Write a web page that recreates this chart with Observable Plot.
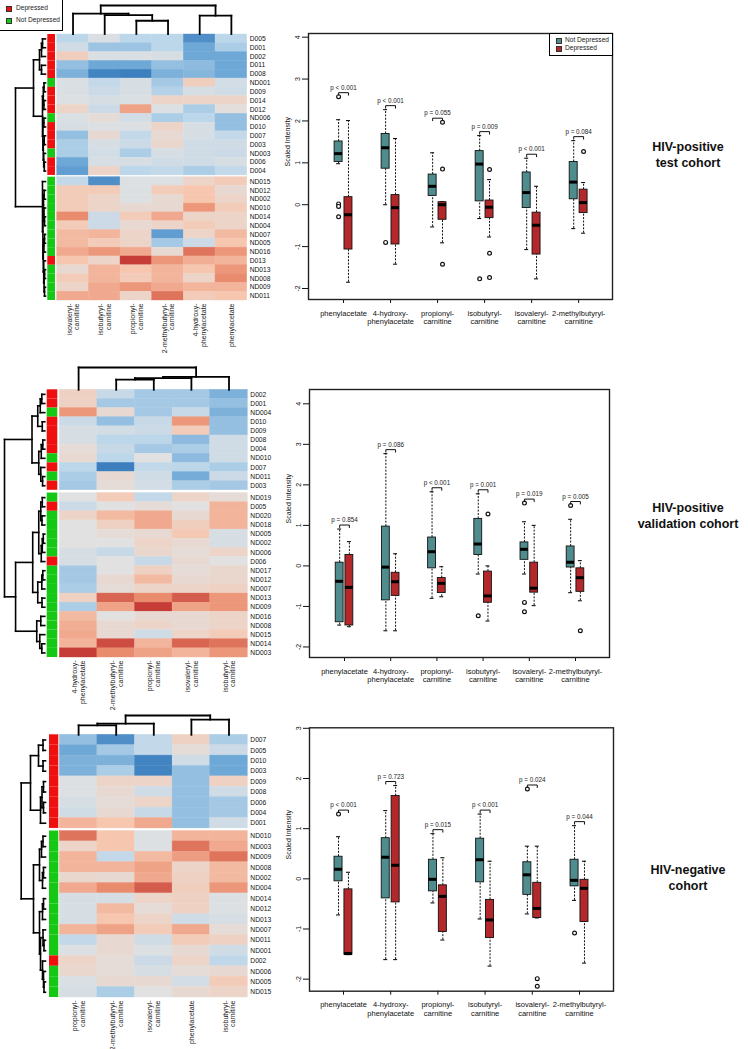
<!DOCTYPE html>
<html><head><meta charset="utf-8">
<script src="https://cdn.jsdelivr.net/npm/d3@7"></script>
<script src="https://cdn.jsdelivr.net/npm/@observablehq/plot@0.6"></script>
<style>
body{margin:0;background:#fff;}
#fig{position:relative;width:748px;height:1049px;overflow:hidden;background:#fff;font-family:"Liberation Sans",Arial,Helvetica,sans-serif;}
#fig svg{position:absolute;left:0;top:0;}
.title{position:absolute;font-weight:bold;font-size:12.5px;text-align:center;line-height:16px;width:140px;color:#111;}
.lg{position:absolute;border:1px solid #000;background:#fff;font-size:6.6px;color:#222;}
.lg div{position:absolute;white-space:nowrap;line-height:8px;}
.sw{position:absolute;width:4px;height:4px;border:0.5px solid #333;}
</style></head><body><div id="fig"></div>
<script>
// ---------------- DATA ----------------
const groupNames = ["Depressed", "Not Depressed"];
const groupColors = ["#f00f0f", "#14c814"];
const boxGroups = ["Not Depressed", "Depressed"];
const boxColors = ["#4e8c8e", "#b3282b"];

// HIV-positive test cohort heatmap
const testColumns = ["isovaleryl-\ncarnitine", "isobutyryl-\ncarnitine", "propionyl-\ncarnitine", "2-methylbutyryl-\ncarnitine", "4-hydroxy-\nphenylacetate", "phenylacetate"];
const testRows = ["D005","D001","D002","D011","D008","ND001","D009","D014","D012","ND006","D010","D007","D003","ND003","D006","D004","ND015","ND012","ND002","ND010","ND014","ND004","ND007","ND005","ND016","D013","ND013","ND008","ND009","ND011"];
const testSplit = 16;
const testValues = [
  [-1.0,-0.2,-1.0,-1.0,-2.5,-1.0],
  [-0.5,-1.4,-1.4,-1.0,-2.0,-1.2],
  [0.7,-0.2,-0.2,-0.3,-2.0,-2.0],
  [-1.5,-2.0,-2.0,-1.5,-1.6,-2.0],
  [-1.8,-2.7,-2.8,-1.8,-1.7,-2.0],
  [-0.2,-0.8,-0.3,-1.3,0.7,-0.4],
  [-0.2,-0.6,-0.3,-1.1,-0.3,-0.5],
  [-0.1,-0.3,-0.2,0.5,0.5,0.5],
  [0.5,-0.6,1.6,-0.1,-1.2,0.1],
  [-0.2,0.2,-0.4,-1.2,-1.0,-1.5],
  [-0.3,-0.1,-0.1,0.5,-0.3,-1.5],
  [-1.5,0.3,-0.8,0.3,-0.3,-0.8],
  [-1.2,-0.3,-0.6,0.4,-0.5,-0.5],
  [-1.2,-0.4,-1.2,-0.3,-0.5,-0.6],
  [-2.0,-0.3,-0.3,-0.5,-0.5,-0.3],
  [-2.2,0.5,-1.0,-0.8,-1.2,-0.8],
  [-0.8,-2.5,-0.1,-0.1,0.5,0.8],
  [0.8,0.8,-0.1,0.8,1.0,0.3],
  [0.8,0.5,-0.1,0.3,1.0,0.5],
  [0.8,0.5,0.3,0.3,1.8,0.8],
  [2.0,-0.6,0.8,1.5,0.5,0.5],
  [0.8,-0.6,0.3,0.5,0.8,0.5],
  [1.2,1.3,0.5,-2.2,0.5,1.2],
  [1.2,0.8,0.5,-1.3,-0.6,1.0],
  [1.5,1.8,1.5,0.3,2.3,1.8],
  [1.0,0.5,3.2,1.8,1.4,1.3],
  [0.3,1.3,1.0,1.3,1.0,1.8],
  [0.8,1.3,0.8,1.3,0.5,2.0],
  [0.5,1.5,1.8,1.5,1.3,1.3],
  [1.5,1.5,0.5,2.3,0.8,1.0]
];
// dendrograms: [height, left, right]
const testRowTree = [30,
  [12,
    [6, [4, [3, "D005", "D001"], "D002"], [4, "D011", "D008"]],
    [3, [2.2, [1.5, "ND001", "D009"], [1.6, "D014", "D012"]],
        [2.6, [1.6, "ND006", "D010"], [2.2, [1.3, "D007", "D003"], [1.8, "ND003", [1.2, "D006", "D004"]]]]]],
  [3, "ND015", [2.6, [2, [1.4, "ND012", "ND002"], [1.6, "ND010", [1, "ND014", "ND004"]]],
                     [2.2, [1.6, [1, "ND007", "ND005"], "ND016"], [1.8, "D013", [1.4, [0.9, "ND013", "ND008"], [1, "ND009", "ND011"]]]]]]
];
const testColTree = [28, [20, 0, [18.5, 1, [13, 2, 3]]], [18, 4, 5]];

// HIV-positive validation cohort heatmap
const valColumns = ["4-hydroxy-\nphenylacetate", "2-methylbutyryl-\ncarnitine", "propionyl-\ncarnitine", "isovaleryl-\ncarnitine", "isobutyryl-\ncarnitine"];
const valRows = ["D002","D001","ND004","D010","D009","D008","D004","ND010","D007","ND011","D003","ND019","D005","ND020","ND018","ND005","ND002","ND006","D006","ND017","ND012","ND007","ND013","ND009","ND016","ND008","ND015","ND014","ND003"];
const valSplit = 11;
const valValues = [
  [0.6,-0.7,-1.3,-1.3,-1.8],
  [0.6,-1.3,-1.3,-1.3,-1.5],
  [1.8,0.3,-1.3,-0.7,-1.8],
  [-0.6,-1.5,-0.7,1.8,-1.5],
  [-0.3,-0.4,-0.6,0.8,-1.5],
  [-0.3,-1.0,-1.0,-1.6,-0.5],
  [0.2,-0.7,-1.3,-1.2,-0.5],
  [0.3,-1.0,0.0,-1.6,-0.5],
  [-1.0,-2.8,-0.8,-1.0,-1.2],
  [-1.2,0.3,-0.5,-1.9,-0.6],
  [-1.3,0.2,-0.4,-1.2,-1.3],
  [0.0,0.8,-0.8,0.5,0.2],
  [-0.6,0.0,0.2,0.0,1.3],
  [0.5,1.2,1.5,0.3,1.3],
  [0.0,0.6,1.5,0.7,1.3],
  [0.0,0.2,0.3,0.9,-0.3],
  [0.0,0.0,0.5,0.3,-0.3],
  [-0.3,-0.7,0.4,0.2,0.5],
  [-0.3,0.0,-0.7,0.3,0.0],
  [-1.3,0.0,0.6,0.2,0.4],
  [-1.3,0.3,1.2,0.3,0.4],
  [-1.2,0.2,0.5,0.5,0.6],
  [0.6,2.5,2.0,2.6,1.8],
  [-1.2,1.6,3.3,1.6,1.8],
  [1.2,0.0,0.3,0.3,0.5],
  [1.4,0.3,0.5,0.3,0.5],
  [1.5,0.3,-0.5,0.5,0.8],
  [1.3,2.8,1.3,2.5,2.3],
  [3.0,2.0,1.6,1.3,1.8]
];
const valRowTree = [40,
  [12.7,
    [7, [4.5, [3, "D002", "D001"], "ND004"], [2.5, "D010", "D009"]],
    [6, [3.5, [2, "D008", "D004"], "ND010"], [4, "D007", [2.2, "ND011", "D003"]]]],
  [29,
    [12,
      [6, [4, [2.5, "ND019", "D005"], [2.8, "ND020", "ND018"]], [3.5, [2.5, [1.5, "ND005", "ND002"], "ND006"], "D006"]],
      [7, [3, [2, "ND017", "ND012"], "ND007"], [2.8, "ND013", "ND009"]]],
    [8, [4, "ND016", "ND008"], [5, "ND015", [3, "ND014", "ND003"]]]]
];
const valColTree = [22, 0, [12.7, [11.5, [10, 1, 2], 3], 4]];

// HIV-negative cohort heatmap
const negColumns = ["propionyl-\ncarnitine", "2-methylbutyryl-\ncarnitine", "isovaleryl-\ncarnitine", "phenylacetate", "isobutyryl-\ncarnitine"];
const negRows = ["D007","D005","D010","D003","D009","D008","D006","D004","D001","ND010","ND003","ND009","ND008","ND002","ND004","ND014","ND012","ND013","ND007","ND011","ND001","D002","ND006","ND005","ND015"];
const negSplit = 9;
const negValues = [
  [-1.5,-2.5,-0.8,0.6,-1.2],
  [-2.0,-1.3,-0.8,0.2,-0.6],
  [-1.8,-1.8,-2.7,-0.5,-2.0],
  [-1.8,-1.2,-2.7,-1.5,-2.0],
  [-0.1,0.5,0.5,-1.5,0.6],
  [-0.1,0.3,-0.5,-1.5,-0.5],
  [-0.3,0.2,0.5,-1.5,-1.3],
  [-0.5,0.3,-0.7,-1.5,-1.3],
  [1.3,1.0,1.5,-1.5,-0.5],
  [2.3,1.0,-0.1,1.3,1.3],
  [0.5,1.0,-0.1,2.3,1.5],
  [1.3,-0.8,1.2,1.7,2.3],
  [1.3,1.3,1.6,0.5,1.2],
  [0.4,0.3,1.5,0.6,1.2],
  [1.5,2.0,2.6,0.7,1.8],
  [-0.3,-0.3,0.5,0.6,-0.1],
  [-0.3,1.2,0.2,0.6,-0.1],
  [-0.3,1.0,0.5,-0.5,-0.3],
  [1.3,1.6,0.8,1.5,0.2],
  [-0.8,0.3,-0.5,0.8,0.6],
  [-0.1,0.3,-0.1,0.3,-0.5],
  [0.5,0.2,-0.6,0.5,-0.9],
  [0.4,0.2,-0.3,0.2,0.3],
  [-0.2,0.3,0.3,-0.4,0.8],
  [-0.3,-1.2,0.0,0.3,0.5]
];
const negRowTree = [24.3,
  [15,
    [7, [2.5, "D007", "D005"], [2.5, "D010", "D003"]],
    [5, [3.5, [2, "D009", "D008"], [2, "D006", "D004"]], "D001"]],
  [12,
    [6, [4, [2.5, "ND010", "ND003"], "ND009"], [3, [2, "ND008", "ND002"], "ND004"]],
    [6, [3, [2, "ND014", "ND012"], "ND013"],
        [5, [2.5, "ND007", [1.5, "ND011", "ND001"]], [3, "D002", [2, "ND006", [1.5, "ND005", "ND015"]]]]]]
];
const negColTree = [19, [11, [9.3, 0, 1], 2], [15, 3, 4]];

// Boxplots: [lower whisker, Q1, median, Q3, upper whisker]
const boxMetabolites = ["phenylacetate", "4-hydroxy-\nphenylacetate", "propionyl-\ncarnitine", "isobutyryl-\ncarnitine", "isovaleryl-\ncarnitine", "2-methylbutyryl-\ncarnitine"];
const testND = [[0.98,1.02,1.22,1.51,2.03],[0.00,0.86,1.36,1.69,2.27],[-0.53,0.21,0.44,0.72,1.24],[-0.33,0.08,0.97,1.28,1.65],[-1.07,-0.08,0.29,0.77,1.11],[-0.57,0.13,0.54,1.02,1.53]];
const testD  = [[-1.85,-1.07,-0.24,0.18,2.01],[-1.42,-0.95,-0.07,0.23,1.58],[-0.91,-0.36,0.00,0.06,0.07],[-0.77,-0.32,-0.06,0.10,0.60],[-1.77,-1.19,-0.49,-0.19,0.44],[-0.68,-0.20,0.05,0.36,0.53]];
const testOutND = [[2.58,0.02,-0.04,-0.29],[-0.90],[],[-1.77],[],[]];
const testOutD  = [[],[],[1.97,0.85,-1.42],[0.84,-1.16,-1.74],[],[1.27]];
const testP = ["p < 0.001","p < 0.001","p = 0.055","p = 0.009","p < 0.001","p = 0.084"];

const valND = [[-1.46,-1.39,-0.38,0.08,0.91],[-1.60,-0.85,-0.03,0.97,2.77],[-0.80,-0.06,0.35,0.70,1.83],[-0.20,0.27,0.54,1.16,1.78],[-0.20,0.15,0.41,0.58,1.09],[-0.66,-0.04,0.09,0.48,1.15]];
const valD  = [[-1.50,-1.47,-0.53,0.27,0.60],[-1.60,-0.74,-0.39,-0.17,0.30],[-0.76,-0.67,-0.43,-0.30,-0.02],[-1.36,-0.91,-0.74,-0.14,0.00],[-0.98,-0.66,-0.55,0.08,1.00],[-0.86,-0.64,-0.29,-0.06,0.13]];
const valOutND = [[],[],[],[-1.23],[1.55,-0.90,-1.13],[1.49]];
const valOutD  = [[],[],[],[1.28],[],[-1.60]];
const valP = ["p = 0.854","p = 0.086","p < 0.001","p = 0.001","p = 0.019","p = 0.005"];

const negND = [[-0.72,-0.05,0.19,0.44,0.84],[-1.61,-0.39,0.43,0.81,1.36],[-0.48,-0.25,-0.01,0.38,0.90],[-0.80,-0.07,0.38,0.80,1.29],[-0.70,-0.32,0.08,0.33,0.65],[-0.43,-0.15,-0.03,0.38,1.06]];
const negD  = [[-1.51,-1.51,-1.49,-0.21,0.13],[-1.61,-0.47,0.27,1.65,1.86],[-1.22,-1.06,-0.35,-0.13,0.42],[-1.74,-1.18,-0.82,-0.42,0.35],[-0.78,-0.78,-0.59,-0.08,0.65],[-1.68,-0.86,-0.19,-0.02,0.35]];
const negOutND = [[1.29],[],[],[],[1.79],[-1.08]];
const negOutD  = [[],[],[],[],[-1.99,-2.14],[]];
const negP = ["p < 0.001","p = 0.723","p = 0.015","p < 0.001","p = 0.024","p = 0.044"];

const yLabel = "Scaled Intensity";

// ---------------- DRAWING ----------------
const FONT = '"Liberation Sans", Arial, Helvetica, sans-serif';
const fig = document.getElementById("fig");
const W = 748, H = 1049;
const baseStyle = {background: "transparent", fontFamily: FONT, fontSize: "7px", overflow: "visible", color: "#111"};
function add(svg) { fig.appendChild(svg); }
const heatColor = {type: "linear", domain: [-3, -2, -1, 0, 1, 2, 3], range: ["#2f73b8", "#6ea8d6", "#bcd6ea", "#e1e1e1", "#f6c6af", "#e98b6d", "#c63d37"], clamp: true};

function dendroSegs(tree, leafPos) {
  const segs = [];
  (function walk(node) {
    if (!Array.isArray(node)) return {p: leafPos(node), h: 0};
    const [h, a, b] = node;
    const A = walk(a), B = walk(b);
    segs.push({p1: A.p, p2: B.p, h1: h, h2: h});
    segs.push({p1: A.p, p2: A.p, h1: A.h, h2: h});
    segs.push({p1: B.p, p2: B.p, h1: B.h, h2: h});
    return {p: (A.p + B.p) / 2, h};
  })(tree);
  return segs;
}

function heatmap(rows, cols, values, split, rowTree, colTree, L) {
  const pos = rows.map((r, i) => i + (i >= split ? L.gap : 0));
  const N = rows.length + L.gap;
  const cells = [];
  rows.forEach((r, i) => cols.forEach((c, j) => cells.push({r, j, p: pos[i], v: values[i][j]})));
  const yS = {domain: [0, N], range: [L.y0, L.y1], axis: null};
  const xS = {domain: [0, cols.length], range: [L.x0, L.x1], axis: null};
  add(Plot.plot({width: W, height: H, margin: 0, style: baseStyle, x: xS, y: yS, color: heatColor,
    marks: [
      Plot.rect(cells, {x1: "j", x2: d => d.j + 1, y1: "p", y2: d => d.p + 1, fill: "v", stroke: "v", strokeWidth: 0.4}),
      Plot.text(rows, {x: () => cols.length, y: (d, i) => pos[i] + 0.5, text: d => d, textAnchor: "start", dx: 2.5, fontSize: 6.7, fill: "#111"}),
      Plot.text(cols, {x: (d, j) => j + 0.5, y: () => N, text: d => d, rotate: -90, textAnchor: "end", dy: 3, fontSize: 7, lineHeight: 1.1, fill: "#222"})
    ]}));
  // annotation sidebar
  add(Plot.plot({width: W, height: H, margin: 0, style: baseStyle,
    x: {domain: [0, 1], range: [L.sx0, L.sx1], axis: null}, y: yS,
    color: {domain: groupNames, range: groupColors},
    marks: [Plot.rect(rows, {x1: () => 0, x2: () => 1, y1: (d, i) => pos[i], y2: (d, i) => pos[i] + 1,
      fill: d => d.startsWith("ND") ? "Not Depressed" : "Depressed"})]}));
  // row dendrogram
  const rsegs = dendroSegs(rowTree, name => pos[rows.indexOf(name)] + 0.5);
  add(Plot.plot({width: W, height: H, margin: 0, style: baseStyle,
    x: {domain: [0, rowTree[0]], range: [L.leafX, L.rootX], axis: null}, y: yS,
    marks: [Plot.link(rsegs, {x1: "h1", x2: "h2", y1: "p1", y2: "p2", stroke: "#000", strokeWidth: 1.6, strokeLinecap: "square"})]}));
  // column dendrogram
  const csegs = dendroSegs(colTree, j => j + 0.5);
  add(Plot.plot({width: W, height: H, margin: 0, style: baseStyle, x: xS,
    y: {domain: [0, colTree[0]], range: [L.cLeafY, L.cRootY], axis: null},
    marks: [Plot.link(csegs, {x1: "p1", x2: "p2", y1: "h1", y2: "h2", stroke: "#000", strokeWidth: 1.8, strokeLinecap: "square"})]}));
}

function boxplot(nd, dd, outND, outD, pv, F) {
  const off = {"Not Depressed": -0.105, "Depressed": 0.105};
  const hw = 0.085;
  const stats = [], outs = [], pdata = [], brackets = [];
  const k = (F.yDomain[1] - F.yDomain[0]) / (F.y1 - F.y0); // data units per px
  boxMetabolites.forEach((m, i) => {
    [[nd, outND, "Not Depressed"], [dd, outD, "Depressed"]].forEach(([S, O, s]) => {
      const [lo, q1, med, q3, hi] = S[i];
      stats.push({i: i + 1, s, lo, q1, med, q3, hi});
      O[i].forEach(v => outs.push({i: i + 1, s, v}));
    });
    const top = Math.max(nd[i][4], dd[i][4], ...outND[i], ...outD[i]);
    pdata.push({i: i + 1, top, p: pv[i], label: m});
    const a = i + 1 + off["Not Depressed"], b = i + 1 + off["Depressed"];
    [[a, top + 1.5 * k], [a, top + 4 * k], [b, top + 4 * k], [b, top + 1.5 * k]].forEach(([x, y]) => brackets.push({g: i, x, y}));
  });
  const xc = d => d.i + off[d.s];
  const yTicks = d3.range(Math.ceil(F.yDomain[0]), Math.floor(F.yDomain[1]) + 1);
  add(Plot.plot({width: W, height: H, marginLeft: F.x0, marginRight: W - F.x1, marginTop: F.y0, marginBottom: H - F.y1,
    style: baseStyle,
    x: {domain: F.xDomain, ticks: [1, 2, 3, 4, 5, 6], tickFormat: () => "", tickSize: 4, label: null},
    y: {domain: F.yDomain, ticks: yTicks, tickFormat: d => String(d), tickRotate: -90, tickSize: 6, tickPadding: 3, label: null},
    color: {domain: boxGroups, range: boxColors},
    marks: [
      Plot.ruleX(stats, {x: xc, y1: "q3", y2: "hi", strokeDasharray: "2,1.4", strokeWidth: 1, stroke: "#111"}),
      Plot.ruleX(stats, {x: xc, y1: "lo", y2: "q1", strokeDasharray: "2,1.4", strokeWidth: 1, stroke: "#111"}),
      Plot.ruleY(stats, {y: "hi", x1: d => xc(d) - hw * 0.5, x2: d => xc(d) + hw * 0.5, strokeWidth: 1.1, stroke: "#111"}),
      Plot.ruleY(stats, {y: "lo", x1: d => xc(d) - hw * 0.5, x2: d => xc(d) + hw * 0.5, strokeWidth: 1.1, stroke: "#111"}),
      Plot.rect(stats, {x1: d => xc(d) - hw, x2: d => xc(d) + hw, y1: "q1", y2: "q3", fill: "s", stroke: "#111", strokeWidth: 0.9}),
      Plot.ruleY(stats, {y: "med", x1: d => xc(d) - hw, x2: d => xc(d) + hw, strokeWidth: 3, stroke: "#000"}),
      Plot.dot(outs, {x: xc, y: "v", r: 1.9, stroke: "#111", strokeWidth: 1.2, fill: "white"}),
      Plot.line(brackets, {x: "x", y: "y", z: "g", stroke: "#111", strokeWidth: 1}),
      Plot.text(pdata, {x: "i", y: "top", text: "p", dy: -9, fontSize: 6.3, fill: "#222"}),
      Plot.text(pdata, {x: "i", text: "label", frameAnchor: "bottom", lineAnchor: "top", dy: 10, fontSize: 7.5, lineHeight: 1.15, fill: "#111"}),
      Plot.text([yLabel], {text: d => d, frameAnchor: "left", rotate: -90, dx: -21, fontSize: 7, fill: "#111"}),
      Plot.frame({stroke: "#222", strokeWidth: 1.4})
    ]}));
}

heatmap(testRows, testColumns, testValues, testSplit, testRowTree, testColTree,
  {x0: 56.7, x1: 246.7, y0: 34, y1: 300, gap: 0.2, sx0: 47.3, sx1: 55, leafX: 45, rootX: 15, cLeafY: 33.5, cRootY: 5});
heatmap(valRows, valColumns, valValues, valSplit, valRowTree, valColTree,
  {x0: 59.3, x1: 247.3, y0: 389.3, y1: 657, gap: 0.3, sx0: 46.7, sx1: 57.3, leafX: 44.3, rootX: 4, cLeafY: 389.3, cRootY: 367});
heatmap(negRows, negColumns, negValues, negSplit, negRowTree, negColTree,
  {x0: 59.3, x1: 247.3, y0: 734.3, y1: 997, gap: 0.25, sx0: 49, sx1: 58.3, leafX: 45, rootX: 20.7, cLeafY: 734.3, cRootY: 715});

boxplot(testND, testD, testOutND, testOutD, testP, {x0: 308, x1: 612, y0: 33, y1: 299, yDomain: [-2.263, 4.088], xDomain: [0.255, 6.72]});
boxplot(valND, valD, valOutND, valOutD, valP, {x0: 309, x1: 609, y0: 389, y1: 657, yDomain: [-2.26, 4.353], xDomain: [0.242, 6.736]});
boxplot(negND, negD, negOutND, negOutD, negP, {x0: 309, x1: 613, y0: 727.3, y1: 990.7, yDomain: [-2.24, 3.01], xDomain: [0.28, 6.72]});

// ---------------- LEGENDS & TITLES ----------------
function legend(items, colors, left, top, w, h, sx, tx, y0, step) {
  const box = document.createElement("div");
  box.className = "lg";
  Object.assign(box.style, {left: left + "px", top: top + "px", width: w + "px", height: h + "px"});
  items.forEach((t, i) => {
    const sw = document.createElement("span");
    sw.className = "sw";
    Object.assign(sw.style, {left: sx + "px", top: (y0 + i * step - 2) + "px", background: colors[i]});
    const tx_ = document.createElement("div");
    tx_.textContent = t;
    Object.assign(tx_.style, {left: tx + "px", top: (y0 + i * step - 4) + "px"});
    box.appendChild(sw); box.appendChild(tx_);
  });
  fig.appendChild(box);
}
legend(groupNames, groupColors, -1, -1, 62, 30, 6, 16, 8, 12);
legend(boxGroups, boxColors, 549, 33, 62, 21, 6, 15, 6, 8);

const titles = [["HIV-positive", "test cohort", 139], ["HIV-positive", "validation cohort", 500], ["HIV-negative", "cohort", 862]];
titles.forEach(([a, b, top]) => {
  const d = document.createElement("div");
  d.className = "title";
  d.style.left = (688 - 70) + "px";
  d.style.top = top + "px";
  d.innerHTML = a + "<br>" + b;
  fig.appendChild(d);
});
</script></body></html>
